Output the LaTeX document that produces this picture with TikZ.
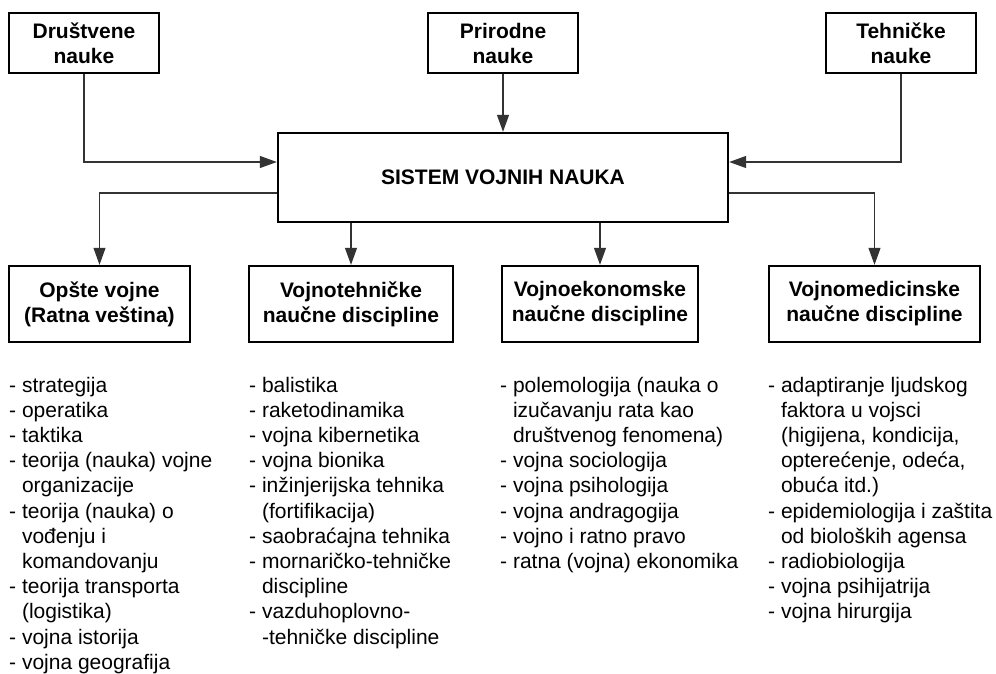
\documentclass[tikz,border=0pt]{standalone}
\usepackage{fontspec}
\setmainfont{Liberation Sans}
\usetikzlibrary{arrows.meta}
\newcommand{\ind}{\hphantom{- }}
\begin{document}
\begin{tikzpicture}[x=1pt,y=-1pt,
  box/.style={draw=black, line width=2.4pt, fill=white, align=center, inner sep=0pt,
    font=\fontsize{21}{25}\selectfont\bfseries},
  conn/.style={draw=black!80, line width=1.1pt, -{Triangle[length=17pt,width=12pt]}},
  lst/.style={anchor=base west, inner sep=0pt, font=\fontsize{21}{25.2}\selectfont}]
\useasboundingbox[fill=white] (0,0) rectangle (996,673);

% top boxes
\node[box, minimum width=150pt, minimum height=60pt] (dr) at (84,43) {Društvene\\nauke};
\node[box, minimum width=150pt, minimum height=60pt] (pr) at (503,43) {Prirodne\\nauke};
\node[box, minimum width=150pt, minimum height=60pt] (te) at (901,43) {Tehničke\\nauke};

% central box
\node[box, minimum width=450pt, minimum height=89pt] (sys) at (503,177.5) {SISTEM VOJNIH NAUKA};

% bottom boxes
\node[box, minimum width=181pt, minimum height=76pt] (b1) at (99.5,304) {Opšte vojne\\(Ratna veština)};
\node[box, minimum width=204pt, minimum height=76pt] (b2) at (351,304) {Vojnotehničke\\naučne discipline};
\node[box, minimum width=196pt, minimum height=76pt] (b3) at (600,304) {Vojnoekonomske\\naučne discipline};
\node[box, minimum width=211pt, minimum height=76pt] (b4) at (874.5,304) {Vojnomedicinske\\naučne discipline};

% connectors
\draw[conn] (dr.south) |- ([yshift=15.5pt]sys.west);
\draw[conn] (te.south) |- ([yshift=15.5pt]sys.east);
\draw[conn] (pr.south) -- (sys.north);
\draw[conn] ([yshift=-15.5pt]sys.west) -| (b1.north);
\draw[conn] ([yshift=-15.5pt]sys.east) -| (b4.north);
\draw[conn] (sys.south -| b2.north) -- (b2.north);
\draw[conn] (sys.south -| b3.north) -- (b3.north);

% lists
\node[lst] (l1) at (9,392) {\parbox[t]{240pt}{\raggedright
- strategija\\
- operatika\\
- taktika\\
- teorija (nauka) vojne\\
\ind organizacije\\
- teorija (nauka) o\\
\ind vođenju i\\
\ind komandovanju\\
- teorija transporta\\
\ind (logistika)\\
- vojna istorija\\
- vojna geografija}};

\node[lst] (l2) at (249,392) {\parbox[t]{250pt}{\raggedright
- balistika\\
- raketodinamika\\
- vojna kibernetika\\
- vojna bionika\\
- inžinjerijska tehnika\\
\ind (fortifikacija)\\
- saobraćajna tehnika\\
- mornaričko-tehničke\\
\ind discipline\\
- vazduhoplovno-\\
\ind -tehničke discipline}};

\node[lst] (l3) at (500,392) {\parbox[t]{265pt}{\raggedright
- polemologija (nauka o\\
\ind izučavanju rata kao\\
\ind društvenog fenomena)\\
- vojna sociologija\\
- vojna psihologija\\
- vojna andragogija\\
- vojno i ratno pravo\\
- ratna (vojna) ekonomika}};

\node[lst] (l4) at (768,392) {\parbox[t]{228pt}{\raggedright
- adaptiranje ljudskog\\
\ind faktora u vojsci\\
\ind (higijena, kondicija,\\
\ind opterećenje, odeća,\\
\ind obuća itd.)\\
- epidemiologija i zaštita\\
\ind od bioloških agensa\\
- radiobiologija\\
- vojna psihijatrija\\
- vojna hirurgija}};
\end{tikzpicture}
\end{document}
